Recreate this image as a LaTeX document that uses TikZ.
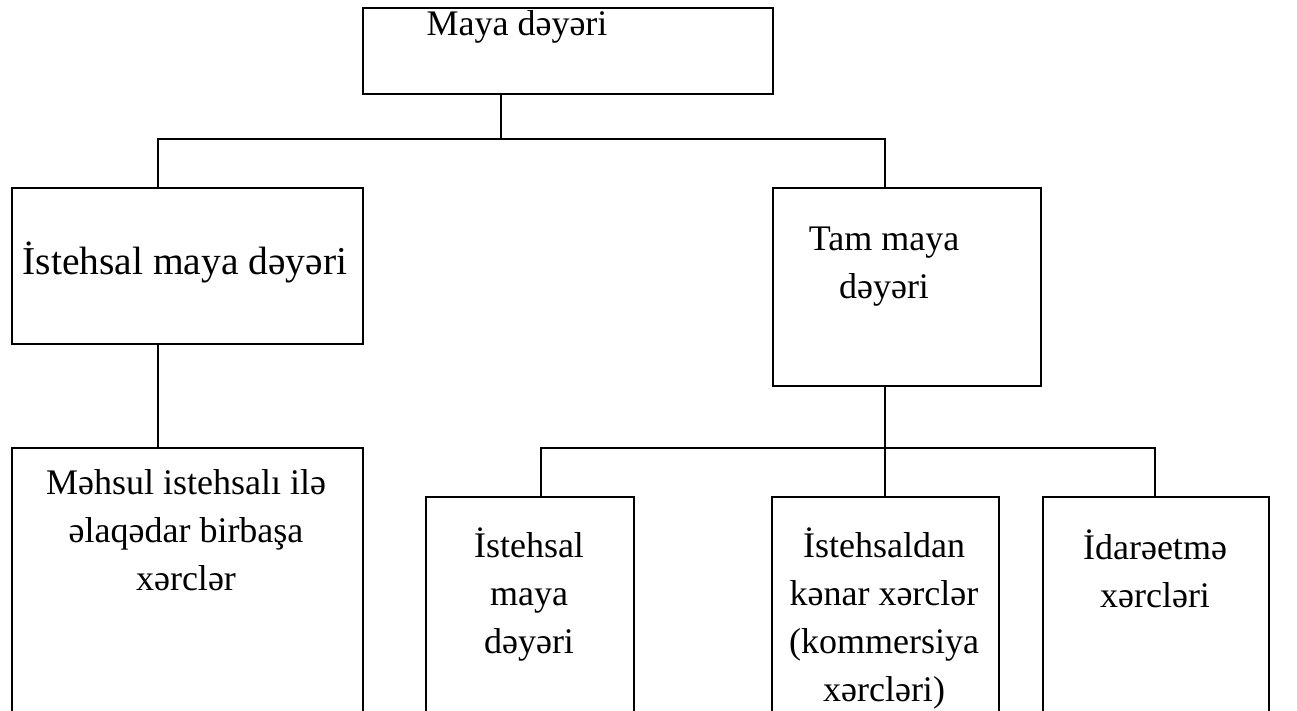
\documentclass[tikz,border=0pt]{standalone}
\usepackage{fontspec}
\setmainfont{Liberation Serif}
\begin{document}
\begin{tikzpicture}[x=1pt,y=-1pt,
  box/.style={draw, line width=2.4pt, rectangle, inner sep=0pt, anchor=north west},
  lbl/.style={font=\fontsize{36}{48}\selectfont, align=center, inner sep=0pt},
  biglbl/.style={lbl, font=\fontsize{39.5}{48}\selectfont},
  link/.style={line width=2.4pt}]
\useasboundingbox (0,0) rectangle (1297,711);
\clip (0,0) rectangle (1297,711);

% boxes
\node[box, minimum width=410pt, minimum height=86pt]  (root)    at (362,7)   {};
\node[box, minimum width=351pt, minimum height=156pt] (prod)    at (11,187)  {};
\node[box, minimum width=268pt, minimum height=198pt] (full)    at (772,187) {};
\node[box, minimum width=351pt, minimum height=300pt] (direct)  at (11,447)  {};
\node[box, minimum width=208pt, minimum height=260pt] (pmc)     at (425,496) {};
\node[box, minimum width=227pt, minimum height=260pt] (nonprod) at (771,496) {};
\node[box, minimum width=226pt, minimum height=260pt] (admin)   at (1042,496) {};

% labels
\node[lbl]    (rootT)    at (517,27)  {Maya dəyəri};
\node[biglbl] (prodT)    at (185,262) {İstehsal maya dəyəri};
\node[lbl]    (fullT)    at (884,267) {Tam maya\\dəyəri};
\node[lbl]    (directT)  at (186,530) {Məhsul istehsalı ilə\\əlaqədar birbaşa\\xərclər};
\node[lbl]    (pmcT)     at (529,595) {İstehsal\\maya\\dəyəri};
\node[lbl]    (nonprodT) at (884,618) {İstehsaldan\\kənar xərclər\\(kommersiya\\xərcləri)};
\node[lbl]    (adminT)   at (1155,569) {İdarəetmə\\xərcləri};

% junction points of the connectors
\coordinate (hub) at (501,139);
\coordinate (lt)  at (158,139);
\coordinate (rt)  at (885,139);
\coordinate (ll)  at (541,448);
\coordinate (lb)  at (885,448);
\coordinate (lr)  at (1155,448);

% connectors
\draw[link] (hub |- root.south) -- (hub);
\draw[link] (lt |- prod.north) -- (lt) -- (rt) -- (rt |- full.north);
\draw[link] (lt |- prod.south) -- (lt |- direct.north);
\draw[link] (lb |- full.south) -- (lb |- nonprod.north);
\draw[link] (ll |- pmc.north) -- (ll) -- (lr) -- (lr |- admin.north);
\end{tikzpicture}
\end{document}
